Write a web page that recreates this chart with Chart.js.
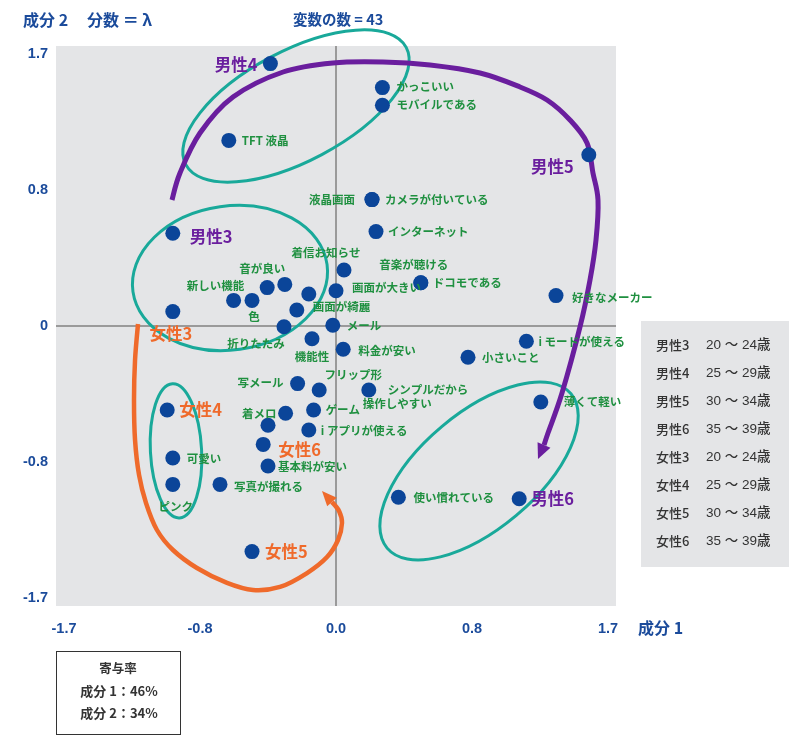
<!DOCTYPE html>
<html><head><meta charset="utf-8">
<script src="https://cdn.jsdelivr.net/npm/chart.js@4.4.1/dist/chart.umd.min.js"></script>
<style>html,body{margin:0;padding:0;background:#fff;}#wrap{width:800px;height:755px;position:relative;}</style>
</head><body><div id="wrap"><canvas id="c" width="800" height="755"></canvas></div>
<script>
// ---------------- DATA ----------------
const pointNames = [
  '男性4','かっこいい','モバイルである','TFT 液晶','男性5','カメラが付いている','液晶画面',
  'インターネット','男性3','着信お知らせ','ドコモである','音楽が聴ける','画面が大きい','好きなメーカー',
  '','音が良い','新しい機能','色','','画面が綺麗','女性3','折りたたみ','メール','機能性','料金が安い',
  'i モードが使える','小さいこと','写メール','フリップ形','シンプルだから\n操作しやすい','薄くて軽い',
  '女性4','着メロ','ゲーム','','i アプリが使える','女性6','基本料が安い','可愛い','ピンク','写真が撮れる',
  '使い慣れている','男性6','女性5'
];
const xValues = [
  -0.41, 0.29, 0.29, -0.67, 1.58, 0.225, 0.225,
  0.25, -1.02, 0.05, 0.53, 0.53, 0.0, 1.375,
  -0.32, -0.43, -0.64, -0.525, -0.17, -0.245, -1.02, -0.325, -0.02, -0.15, 0.045,
  1.19, 0.825, -0.24, -0.105, 0.205, 1.28,
  -1.055, -0.315, -0.14, -0.425, -0.17, -0.455, -0.425, -1.02, -1.02, -0.725,
  0.39, 1.145, -0.525
];
const yValues = [
  1.64, 1.49, 1.38, 1.16, 1.07, 0.79, 0.79,
  0.59, 0.58, 0.35, 0.27, 0.27, 0.22, 0.19,
  0.26, 0.24, 0.16, 0.16, 0.20, 0.10, 0.09, -0.005, 0.005, -0.08, -0.145,
  -0.095, -0.195, -0.36, -0.40, -0.40, -0.475,
  -0.525, -0.545, -0.525, -0.62, -0.65, -0.74, -0.875, -0.825, -0.99, -0.99,
  -1.07, -1.08, -1.41
];
const xTickValues = [-1.7, -0.85, 0, 0.85, 1.7];
const xTickLabels = ['-1.7', '-0.8', '0.0', '0.8', '1.7'];
const yTickValues = [-1.7, -0.85, 0, 0.85, 1.7];
const yTickLabels = ['-1.7', '-0.8', '0', '0.8', '1.7'];
const ageGroups = ['男性3','男性4','男性5','男性6','女性3','女性4','女性5','女性6'];
const ageRanges = ['20 ～ 24歳','25 ～ 29歳','30 ～ 34歳','35 ～ 39歳','20 ～ 24歳','25 ～ 29歳','30 ～ 34歳','35 ～ 39歳'];
const contribTitle = '寄与率';
const contribLines = ['成分 1：46%', '成分 2：34%'];
// ellipses (data units): centre x, centre y, radius x, radius y, rotation deg
const ellipseCx = [-0.25, -0.6625, -1.0, 0.894];
const ellipseCy = [1.375, 0.30, -0.78, -0.906];
const ellipseRx = [0.78, 0.6125, 0.16, 0.75];
const ellipseRy = [0.344, 0.45, 0.42, 0.3625];
const ellipseRot = [-28, -8, -3, -40];
// arrow paths (data units), last point = tip
const maleArrowX = [-1.025,-0.975,-0.85,-0.644,-0.331,-0.019,0.294,0.5875,0.9,1.15,1.319,1.4625,1.569,1.606,1.6375,1.625,1.5875,1.525,1.4125,1.325,1.30,1.2625];
const maleArrowY = [0.7875,0.956,1.206,1.431,1.5875,1.644,1.65,1.631,1.581,1.494,1.4125,1.2875,1.144,0.956,0.7875,0.5375,0.2875,-0.006,-0.419,-0.669,-0.744,-0.831];
const femaleArrowX = [-1.2375,-1.256,-1.2625,-1.256,-1.231,-1.1875,-1.119,-1.019,-0.869,-0.681,-0.519,-0.35,-0.181,-0.056,0.0125,0.0375,0.019,-0.025,-0.0875];
const femaleArrowY = [0.0125,-0.2125,-0.4625,-0.7125,-0.931,-1.106,-1.275,-1.4,-1.5125,-1.606,-1.65,-1.631,-1.544,-1.444,-1.3375,-1.231,-1.156,-1.1,-1.031];

// ---------------- LAYOUT (label offsets in px: dx, dy, align) ----------------
const labelLayout = {
  '男性4': [[-13,1,'right']], 'かっこいい': [[14,-1,'left']], 'モバイルである': [[14,-1,'left']],
  'TFT 液晶': [[13,0,'left']], '男性5': [[-15,12,'right']], 'カメラが付いている': [[13,0,'left']],
  '液晶画面': [[-17,0,'right']], 'インターネット': [[12,0,'left']], '男性3': [[17,4,'left']],
  '着信お知らせ': [[-18,-17,'center']], 'ドコモである': [[12,0,'left']], '音楽が聴ける': [[-7,-18,'center']],
  '画面が大きい': [[16,-3,'left']], '好きなメーカー': [[16,2,'left']], '音が良い': [[-5,-19,'center']],
  '新しい機能': [[-18,-15,'center']], '色': [[2,16,'center']], '画面が綺麗': [[16,-3,'left']],
  '女性3': [[-2,22,'center']], '折りたたみ': [[-28,17,'center']], 'メール': [[14,0,'left']],
  '機能性': [[0,18,'center']], '料金が安い': [[15,1,'left']], 'i モードが使える': [[12,0,'left']],
  '小さいこと': [[14,0,'left']], '写メール': [[-14,-1,'right']], 'フリップ形': [[34,-15,'center']],
  'シンプルだから\n操作しやすい': [[19,0,'left'],[-6,14,'left']], '薄くて軽い': [[23,0,'left']],
  '女性4': [[12,0,'left']], '着メロ': [[-9,0,'right']], 'ゲーム': [[12,0,'left']],
  'i アプリが使える': [[12,1,'left']], '女性6': [[15,5,'left']], '基本料が安い': [[10,1,'left']],
  '可愛い': [[14,1,'left']], 'ピンク': [[3,22,'center']], '写真が撮れる': [[14,2,'left']],
  '女性5': [[13,0,'left']], '使い慣れている': [[15,0,'left']], '男性6': [[12,0,'left']]
};

const BLUE = '#1b4b9b', NAVY = '#0b4599', GREEN = '#1f9040', PURPLE = '#6a1e9e', ORANGE = '#ef6a2b', TEAL = '#19a99a';
const JP = "'Noto Sans CJK JP', 'Noto Sans', sans-serif";

function smoothPath(ctx, pts) {
  ctx.moveTo(pts[0][0], pts[0][1]);
  for (let i = 0; i < pts.length - 1; i++) {
    const p0 = pts[i - 1] || pts[i], p1 = pts[i], p2 = pts[i + 1], p3 = pts[i + 2] || p2;
    ctx.bezierCurveTo(p1[0] + (p2[0] - p0[0]) / 6, p1[1] + (p2[1] - p0[1]) / 6,
                      p2[0] - (p3[0] - p1[0]) / 6, p2[1] - (p3[1] - p1[1]) / 6, p2[0], p2[1]);
  }
}
function drawArrow(ctx, xs, ys, sx, sy, color, width, headW) {
  const pts = xs.map((v, i) => [sx.getPixelForValue(v), sy.getPixelForValue(ys[i])]);
  const tip = pts[pts.length - 1], line = pts.slice(0, -1), last = line[line.length - 1];
  ctx.save();
  ctx.strokeStyle = color; ctx.lineWidth = width; ctx.lineCap = 'butt'; ctx.lineJoin = 'round';
  ctx.beginPath(); smoothPath(ctx, line); ctx.stroke();
  const dx = tip[0] - last[0], dy = tip[1] - last[1], L = Math.hypot(dx, dy);
  const px = -dy / L, py = dx / L;
  ctx.fillStyle = color; ctx.beginPath();
  ctx.moveTo(tip[0], tip[1]);
  ctx.lineTo(last[0] + px * headW / 2, last[1] + py * headW / 2);
  ctx.lineTo(last[0] - px * headW / 2, last[1] - py * headW / 2);
  ctx.closePath(); ctx.fill();
  ctx.restore();
}

const decorPlugin = {
  id: 'decor',
  beforeDraw(chart) {
    const { ctx, chartArea: a } = chart;
    ctx.save();
    ctx.fillStyle = '#fff'; ctx.fillRect(0, 0, chart.width, chart.height);
    ctx.fillStyle = '#e4e5e7'; ctx.fillRect(a.left, a.top, a.right - a.left, a.bottom - a.top);
    ctx.restore();
  },
  beforeDatasetsDraw(chart) {
    const { ctx } = chart, sx = chart.scales.x, sy = chart.scales.y;
    ctx.save();
    ctx.strokeStyle = TEAL; ctx.lineWidth = 3;
    for (let i = 0; i < ellipseCx.length; i++) {
      const cx = sx.getPixelForValue(ellipseCx[i]), cy = sy.getPixelForValue(ellipseCy[i]);
      const rx = Math.abs(sx.getPixelForValue(ellipseCx[i] + ellipseRx[i]) - cx);
      const ry = Math.abs(sy.getPixelForValue(ellipseCy[i] + ellipseRy[i]) - cy);
      ctx.beginPath(); ctx.ellipse(cx, cy, rx, ry, ellipseRot[i] * Math.PI / 180, 0, Math.PI * 2); ctx.stroke();
    }
    ctx.restore();
    drawArrow(ctx, maleArrowX, maleArrowY, sx, sy, PURPLE, 5, 14);
    drawArrow(ctx, femaleArrowX, femaleArrowY, sx, sy, ORANGE, 4.5, 13);
  },
  afterDatasetsDraw(chart) {
    const { ctx } = chart;
    const meta = chart.getDatasetMeta(0);
    ctx.save();
    ctx.textBaseline = 'middle';
    pointNames.forEach((name, i) => {
      if (!name) return;
      const el = meta.data[i];
      const lay = labelLayout[name] || [[12, 0, 'left']];
      const isM = name.startsWith('男性'), isF = name.startsWith('女性');
      if (isM || isF) { ctx.font = 'bold 16.5px ' + JP; ctx.fillStyle = isM ? PURPLE : ORANGE; }
      else { ctx.font = 'bold 11.5px ' + JP; ctx.fillStyle = GREEN; }
      name.split('\n').forEach((line, k) => {
        const l = lay[k] || lay[0];
        ctx.textAlign = l[2];
        ctx.fillText(line, el.x + l[0], el.y + l[1]);
      });
    });
    ctx.restore();
  },
  afterDraw(chart) {
    const { ctx } = chart;
    ctx.save();
    ctx.textBaseline = 'middle'; ctx.textAlign = 'left';
    ctx.fillStyle = BLUE;
    ctx.font = 'bold 16px ' + JP;
    ctx.fillText('成分 2', 23, 20);
    ctx.fillText('分数 ＝ λ', 87, 20);
    ctx.font = 'bold 14.5px ' + JP;
    ctx.fillText('変数の数 = 43', 293, 19);
    ctx.font = 'bold 16px ' + JP;
    ctx.fillText('成分 1', 638, 628);
    // right legend
    ctx.fillStyle = '#e4e5e7'; ctx.fillRect(641, 321, 148, 246);
    ctx.fillStyle = '#333';
    ageGroups.forEach((g, i) => {
      ctx.font = '500 13px ' + JP;
      ctx.fillText(g, 656, 345 + i * 28);
      ctx.font = "500 13.5px 'Liberation Sans', " + JP;
      ctx.fillText(ageRanges[i], 706, 345 + i * 28);
    });
    // contribution box
    ctx.strokeStyle = '#333'; ctx.lineWidth = 1;
    ctx.strokeRect(56.5, 651.5, 124, 83);
    ctx.textAlign = 'center';
    ctx.font = 'bold 12.5px ' + JP;
    ctx.fillText(contribTitle, 118, 668);
    ctx.font = 'bold 13px ' + JP;
    contribLines.forEach((t, i) => ctx.fillText(t, 119, 691 + i * 22));
    ctx.restore();
  }
};

new Chart(document.getElementById('c'), {
  type: 'scatter',
  data: {
    datasets: [{
      data: xValues.map((x, i) => ({ x, y: yValues[i] })),
      backgroundColor: NAVY, borderWidth: 0, pointRadius: 7.5, pointHoverRadius: 7.5
    }]
  },
  options: {
    responsive: false, animation: false, devicePixelRatio: 1,
    layout: { padding: { top: 46, right: 184, left: 0, bottom: 0 } },
    plugins: { legend: { display: false }, tooltip: { enabled: false } },
    scales: {
      x: {
        type: 'linear', min: -1.75, max: 1.75,
        afterBuildTicks: s => { s.ticks = xTickValues.map(v => ({ value: v })); },
        afterFit: s => { s.height = 149; },
        ticks: {
          padding: 14, color: BLUE, maxRotation: 0, autoSkip: false,
          font: { family: "'Liberation Sans', Arial, sans-serif", size: 14.5, weight: 'bold' },
          callback: v => xTickLabels[xTickValues.indexOf(v)]
        },
        grid: { drawTicks: false, lineWidth: 2, color: c => (c.tick && c.tick.value === 0 ? '#9a9a9a' : 'rgba(0,0,0,0)') },
        border: { display: false }
      },
      y: {
        type: 'linear', min: -1.75, max: 1.75,
        afterBuildTicks: s => { s.ticks = yTickValues.map(v => ({ value: v })); },
        afterFit: s => { s.width = 56; },
        ticks: {
          padding: 8, color: BLUE, autoSkip: false,
          font: { family: "'Liberation Sans', Arial, sans-serif", size: 14.5, weight: 'bold' },
          callback: v => yTickLabels[yTickValues.indexOf(v)]
        },
        grid: { drawTicks: false, lineWidth: 2, color: c => (c.tick && c.tick.value === 0 ? '#9a9a9a' : 'rgba(0,0,0,0)') },
        border: { display: false }
      }
    }
  },
  plugins: [decorPlugin]
});
</script></body></html>
